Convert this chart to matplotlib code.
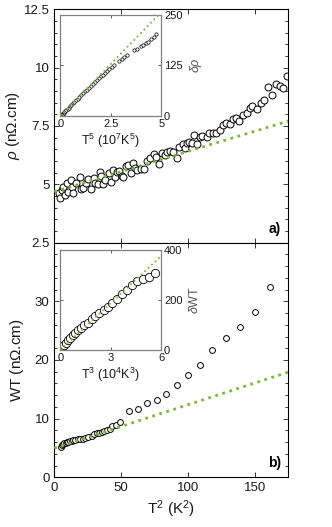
import matplotlib.pyplot as plt
import numpy as np
from matplotlib.ticker import MultipleLocator

plt.rcParams['font.family'] = ['Liberation Sans', 'DejaVu Sans']
plt.rcParams['mathtext.fontset'] = 'custom'
plt.rcParams['mathtext.rm'] = 'Liberation Sans'
plt.rcParams['mathtext.it'] = 'Liberation Sans:italic'

# panel a): rho vs T^2
T2_a = [3.7, 4.2, 5.5, 6.7, 8.2, 9.2, 10.5, 12.2, 13.0, 14.2, 16.2, 19.2, 20.0, 21.7,
        23.7, 25.4, 27.2, 29.7, 30.4, 32.4, 34.2, 34.9, 36.6, 37.9, 40.9, 42.4, 44.1,
        45.4, 46.6, 48.6, 50.4, 51.1, 53.6, 55.3, 57.3, 59.1, 60.3, 62.1, 64.6, 67.1,
        69.0, 71.5, 74.5, 76.0, 78.5, 80.3, 82.8, 84.5, 86.5, 89.0, 91.5, 93.5, 95.9,
        97.7, 99.5, 101.0, 102.7, 104.7, 107.0, 108.9, 110.7, 113.9, 115.9, 118.4,
        120.9, 123.9, 125.9, 128.4, 131.4, 133.9, 135.9, 138.4, 140.9, 143.8, 146.3,
        147.6, 151.3, 154.3, 156.8, 159.5, 162.6, 165.6, 168.8, 171.3, 174.3]
rho = [4.64, 4.40, 4.76, 4.90, 4.54, 5.04, 4.69, 5.19, 4.87, 4.64, 5.07, 5.33, 4.79, 4.86,
       5.07, 5.23, 4.80, 5.26, 5.04, 5.00, 5.54, 5.37, 5.01, 5.19, 5.47, 5.11, 5.61,
       5.33, 5.51, 5.59, 5.37, 5.33, 5.80, 5.83, 5.47, 5.90, 5.69, 5.61, 5.64, 5.66,
       6.01, 6.14, 6.30, 6.19, 5.86, 6.33, 6.26, 6.40, 6.44, 6.40, 6.11, 6.61, 6.73,
       6.54, 6.79, 6.83, 6.76, 7.11, 6.73, 7.04, 7.07, 7.04, 7.19, 7.19, 7.21, 7.33,
       7.54, 7.64, 7.59, 7.79, 7.86, 7.73, 7.97, 8.07, 8.26, 8.36, 8.21, 8.47, 8.61,
       9.16, 8.84, 9.29, 9.22, 9.14, 9.66]
fit_a_x = [0, 175]
fit_a_y = [4.68, 7.71]
yticks_a = [2.5, 5, 7.5, 10, 12.5]
ylabels_a = ['2.5', '5', '7.5', '10', '12.5']

# inset a): delta rho vs T^5
T5 = [0.02, 0.05, 0.08, 0.12, 0.16, 0.2, 0.25, 0.3, 0.36, 0.42, 0.48, 0.55, 0.62, 0.7,
      0.78, 0.86, 0.95, 1.04, 1.13, 1.22, 1.31, 1.4, 1.5, 1.6, 1.7, 1.8, 1.9, 2.0, 2.1,
      2.2, 2.3, 2.42, 2.55, 2.68, 2.9, 3.05, 3.15, 3.3, 3.65, 3.78, 3.98, 4.1, 4.22,
      4.35, 4.5, 4.65, 4.76]
drho = [1, 3, 4, 6, 8, 10, 13, 15, 18, 21, 24, 28, 31, 35, 39, 43, 47, 52, 56, 61, 65,
        70, 74, 79, 84, 88, 93, 98, 102, 107, 111, 117, 122, 127, 136, 141, 145, 150,
        163, 167, 172, 176, 180, 184, 190, 196, 202]
fit_ia_x = [0, 5]
fit_ia_y = [0, 257]

# panel b): WT vs T^2
T2_b = [5.0, 6.0, 6.7, 7.6, 8.5, 9.5, 10.5, 11.8, 13.0, 14.3, 15.5, 17.5, 19.3, 21.2,
        23.0, 25.4, 27.9, 29.9, 31.7, 33.7, 35.4, 37.4, 39.1, 41.6, 43.4, 45.9, 49.1,
        56.0, 62.8, 69.6, 76.6, 83.3, 91.5, 99.9, 108.7, 118.0, 128.5, 138.9, 150.1,
        161.3]
WT = [5.25, 5.45, 5.7, 5.8, 5.93, 6.0, 6.1, 6.15, 6.2, 6.3, 6.4, 6.5, 6.55, 6.6, 6.7,
      6.95, 7.1, 7.3, 7.5, 7.6, 7.7, 7.9, 8.0, 8.3, 8.68, 8.97, 9.36, 11.3, 11.68, 12.6,
      13.15, 14.22, 15.68, 17.42, 19.08, 21.71, 23.78, 25.71, 28.25, 32.5]
fit_b_x = [0, 175]
fit_b_y = [4.97, 17.93]

# inset b): delta WT vs T^3
T3 = [0.01, 0.03, 0.05, 0.08, 0.12, 0.2, 0.31, 0.45, 0.59, 0.75, 0.9, 1.06, 1.24, 1.43,
      1.63, 1.86, 2.08, 2.31, 2.57, 2.84, 3.1, 3.39, 3.69, 3.98, 4.27, 4.57, 4.9, 5.25,
      5.65]
dWT = [2, 4, 7, 10, 13, 21, 29, 40, 49, 59, 69, 80, 89, 100, 109, 123, 136, 147, 160,
       173, 187, 205, 223, 240, 259, 276, 285, 293, 309]
fit_ib_x = [0, 6]
fit_ib_y = [0, 376]

green = '#7cb63a'
txt = '#1a1a1a'

fig = plt.figure(figsize=(3.32, 5.27), dpi=100)
ax1 = fig.add_axes([0.1636, 0.5395, 0.7048, 0.4429])
ax2 = fig.add_axes([0.1636, 0.0943, 0.7048, 0.4452])

for ax in (ax1, ax2):
    ax.set_xlim(0, 175)
    ax.set_xticks([0, 50, 100, 150])
    ax.tick_params(which='both', direction='in', top=True, right=True, labelsize=9.5,
                   colors=txt, width=0.6)
    ax.tick_params(which='major', length=3.5)
    ax.tick_params(which='minor', length=2)
    for s in ax.spines.values():
        s.set_linewidth(0.8)

ax1.plot(T2_a, rho, 'o', mfc='white', mec='black', ms=5, mew=0.7, zorder=2)
ax1.plot(fit_a_x, fit_a_y, ':', color=green, lw=2, zorder=3)
ax1.set_ylim(2.5, 12.5)
ax1.set_yticks(yticks_a)
ax1.set_yticklabels(ylabels_a)
ax1.yaxis.set_minor_locator(MultipleLocator(0.5))
ax1.set_xticklabels([])
ax1.set_ylabel(r'$\rho$ (n$\Omega$.cm)', fontsize=11, color=txt, labelpad=1)
ax1.text(0.97, 0.03, 'a)', transform=ax1.transAxes, ha='right', va='bottom',
         fontsize=10, fontweight='bold')

ax2.plot(T2_b, WT, 'o', mfc='white', mec='black', ms=4.2, mew=0.7, zorder=2)
ax2.plot(fit_b_x, fit_b_y, ':', color=green, lw=2, zorder=3)
ax2.set_ylim(0, 40)
ax2.set_yticks([0, 10, 20, 30])
ax2.yaxis.set_minor_locator(MultipleLocator(2))
ax2.set_ylabel('WT (n$\\Omega$.cm)', fontsize=11, color=txt, labelpad=6)
ax2.set_xlabel('T$^2$ (K$^2$)', fontsize=11, color=txt, labelpad=3)
ax2.text(0.97, 0.03, 'b)', transform=ax2.transAxes, ha='right', va='bottom',
         fontsize=10, fontweight='bold')

in1 = fig.add_axes([0.1816, 0.7799, 0.3042, 0.1917])
in1.plot(T5, drho, 'o', mfc='white', mec='black', ms=2.4, mew=0.5, zorder=2)
in1.plot(fit_ia_x, fit_ia_y, ':', color=green, lw=1.3, zorder=3)
in1.set_xlim(0, 5)
in1.set_ylim(0, 250)
in1.set_xticks([0, 2.5, 5])
in1.set_xticklabels(['0', '2.5', '5'])
in1.set_yticks([0, 125, 250])
in1.set_xlabel('T$^5$ (10$^7$K$^5$)', fontsize=9, color=txt, labelpad=2)
in1.set_ylabel(r'$\delta\rho$', fontsize=9, color='#555555', labelpad=4)

in2 = fig.add_axes([0.1816, 0.3359, 0.3042, 0.1898])
in2.plot(T3, dWT, 'o', mfc='white', mec='black', ms=6, mew=0.6, zorder=2)
in2.plot(fit_ib_x, fit_ib_y, ':', color=green, lw=1.3, zorder=3)
in2.set_xlim(0, 6)
in2.set_ylim(0, 400)
in2.set_xticks([0, 3, 6])
in2.set_yticks([0, 200, 400])
in2.set_xlabel('T$^3$ (10$^4$K$^3$)', fontsize=9, color=txt, labelpad=2)
in2.set_ylabel(r'$\delta$WT', fontsize=9, color='#555555', labelpad=4)

for ax in (in1, in2):
    ax.yaxis.tick_right()
    ax.yaxis.set_label_position('right')
    ax.tick_params(direction='in', left=True, right=True, top=True, length=2.5,
                   labelsize=8, colors=txt, width=0.5, pad=2)
    for s in ax.spines.values():
        s.set_color('#808080')
        s.set_linewidth(0.9)
    ax.patch.set_facecolor('white')

fig.savefig('out.png', dpi=100)
